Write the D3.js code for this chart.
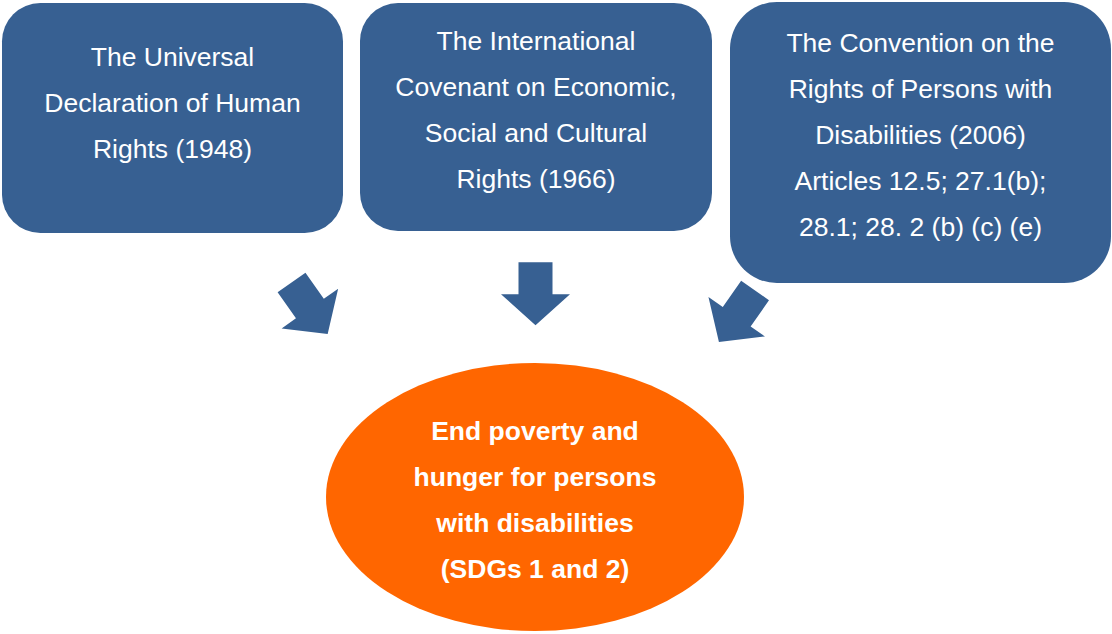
<!DOCTYPE html>
<html>
  <head>
    <meta charset="utf-8">
    <script src="https://cdn.jsdelivr.net/npm/d3@7"></script>
    <style>
      body { margin: 0; background: #fff; }
      .label { font-family: "Liberation Sans", Arial, sans-serif; font-size: 26.5px; fill: #fff; text-anchor: middle; }
      .goal { font-weight: bold; }
    </style>
  </head>
  <body>
    <script type="text/javascript">
      WIDTH = 1112
      HEIGHT = 634
      LINEGAP = 46

      // texts of the three source boxes
      var sources = [
        ["The Universal", "Declaration of Human", "Rights (1948)"],
        ["The International", "Covenant on Economic,", "Social and Cultural", "Rights (1966)"],
        ["The Convention on the", "Rights of Persons with", "Disabilities (2006)", "Articles 12.5; 27.1(b);", "28.1; 28. 2 (b) (c) (e)"]
      ]

      // text of the goal ellipse
      var goal = ["End poverty and", "hunger for persons", "with disabilities", "(SDGs 1 and 2)"]

      // layout of the boxes (x, y, w, h, first baseline)
      var boxLayout = [
        {x: 2, y: 3, w: 341, h: 230, base: 63},
        {x: 360, y: 3, w: 352, h: 228, base: 47},
        {x: 730, y: 2, w: 381, h: 281, base: 50}
      ]

      // arrows: centre and rotation
      var arrowLayout = [
        {cx: 309.6, cy: 308.2, rot: -35},
        {cx: 535.5, cy: 293.7, rot: 0},
        {cx: 737, cy: 316.3, rot: 35}
      ]

      var svg = d3.select("body")
            .append("svg")
            .attr("width", WIDTH)
            .attr("height", HEIGHT);

      // source boxes
      var boxes = svg.selectAll("g.box")
        .data(sources)
        .enter()
        .append("g").attr("class", "box")

      boxes.append("rect")
        .attr("x", function(d, i) { return boxLayout[i].x })
        .attr("y", function(d, i) { return boxLayout[i].y })
        .attr("width", function(d, i) { return boxLayout[i].w })
        .attr("height", function(d, i) { return boxLayout[i].h })
        .attr("rx", function(d, i) { return Math.min(boxLayout[i].w, boxLayout[i].h) / 6 })
        .attr("fill", "#376092")

      boxes.each(function(lines, i) {
        var b = boxLayout[i]
        d3.select(this).selectAll("text")
          .data(lines)
          .enter()
          .append("text").attr("class", "label")
          .attr("x", b.x + b.w / 2)
          .attr("y", function(d, j) { return b.y + b.base + j * LINEGAP })
          .text(function(d) { return d })
      })

      // block arrow, drawn pointing down around (0,0)
      var shaftW = 34, headW = 69, shaftL = 32, headL = 31
      var len = shaftL + headL
      var arrowPts = [
        [-shaftW / 2, -len / 2], [shaftW / 2, -len / 2],
        [shaftW / 2, -len / 2 + shaftL], [headW / 2, -len / 2 + shaftL],
        [0, len / 2],
        [-headW / 2, -len / 2 + shaftL], [-shaftW / 2, -len / 2 + shaftL]
      ]

      svg.selectAll("path.arrow")
        .data(arrowLayout)
        .enter()
        .append("path").attr("class", "arrow")
        .attr("d", d3.line()(arrowPts) + "Z")
        .attr("transform", function(d) { return "translate(" + d.cx + "," + d.cy + ") rotate(" + d.rot + ")" })
        .attr("fill", "#376092")

      // goal ellipse
      var ex = 535, ey = 497
      svg.append("ellipse")
        .attr("cx", ex)
        .attr("cy", ey)
        .attr("rx", 209)
        .attr("ry", 134)
        .attr("fill", "#ff6600")

      svg.selectAll("text.goal")
        .data(goal)
        .enter()
        .append("text").attr("class", "label goal")
        .attr("x", ex)
        .attr("y", function(d, j) { return 440 + j * LINEGAP })
        .text(function(d) { return d })
    </script>
  </body>
</html>
